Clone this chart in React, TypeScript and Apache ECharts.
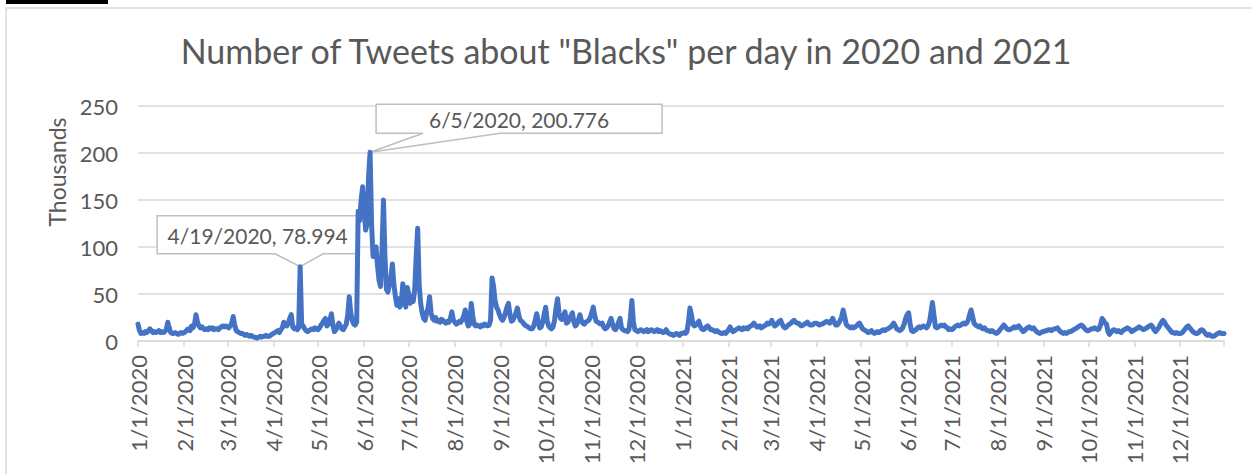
import React, { useEffect, useRef } from "react";
import * as echarts from "echarts";

const chartTitle = 'Number of Tweets about "Blacks" per day in 2020 and 2021';
const yAxisTitle = "Thousands";
const startYear = 2020;
const yTicks = [0, 50, 100, 150, 200, 250];

// Daily values, in thousands of tweets, one array per month
const jan2020 = [18, 11, 8, 9, 8, 10, 9, 11, 13, 11, 9, 10, 9, 10, 11, 9, 10, 9, 10, 12, 20, 14, 9, 8, 8, 9, 8, 7, 8, 9, 8];
const feb2020 = [9, 10, 12, 13, 11, 16, 14, 18, 28, 20, 16, 14, 15, 13, 12, 13, 12, 14, 13, 14, 12, 13, 13, 12, 14, 15, 16, 15, 16];
const mar2020 = [15, 14, 16, 19, 26, 17, 11, 10, 9, 8, 8, 7, 6, 7, 6, 5, 6, 5, 4, 4, 3, 4, 5, 4, 5, 5, 6, 5, 5, 6, 7];
const apr2020 = [8, 9, 10, 11, 9, 12, 14, 20, 17, 16, 19, 24, 28, 15, 13, 14, 12, 14, 78.994, 18, 16, 13, 11, 10, 11, 12, 13, 12, 14, 13];
const may2020 = [12, 14, 17, 19, 22, 24, 16, 18, 22, 29, 17, 10, 12, 15, 19, 16, 13, 12, 15, 18, 28, 47, 30, 22, 18, 17, 20, 138, 128, 150, 164];
const jun2020 = [140, 118, 125, 175, 200.776, 125, 90, 95, 100, 80, 65, 58, 95, 150, 90, 55, 52, 60, 68, 82, 60, 48, 38, 45, 36, 40, 61, 45, 36, 57];
const jul2020 = [50, 40, 47, 42, 55, 90, 120, 60, 40, 30, 24, 22, 30, 35, 47, 30, 24, 22, 25, 21, 22, 20, 23, 22, 20, 19, 21, 20, 24, 31, 22];
const aug2020 = [20, 18, 19, 21, 20, 23, 27, 33, 21, 16, 18, 40, 27, 18, 16, 17, 16, 15, 17, 16, 18, 17, 16, 17, 22, 67, 58, 43, 36, 33, 28];
const sep2020 = [24, 22, 25, 30, 36, 40, 28, 21, 22, 26, 30, 35, 27, 22, 21, 19, 17, 16, 15, 14, 13, 13, 16, 22, 29, 20, 14, 15, 20, 28];
const oct2020 = [36, 22, 16, 14, 13, 15, 22, 35, 45, 30, 24, 23, 27, 31, 19, 20, 24, 27, 30, 20, 16, 18, 22, 28, 22, 19, 18, 20, 21, 22, 25];
const nov2020 = [30, 36, 27, 21, 20, 19, 18, 19, 15, 13, 14, 16, 20, 24, 18, 13, 12, 15, 20, 24, 14, 12, 11, 11, 10, 12, 25, 43, 20, 12];
const dec2020 = [11, 10, 11, 12, 11, 10, 11, 12, 10, 11, 12, 11, 10, 11, 12, 10, 11, 10, 9, 10, 12, 9, 8, 7, 7, 6, 7, 8, 7, 6, 8];
const jan2021 = [8, 9, 8, 10, 20, 35, 28, 18, 16, 17, 19, 21, 16, 13, 12, 13, 15, 16, 14, 12, 12, 11, 10, 11, 10, 9, 8, 8, 9, 8, 10];
const feb2021 = [12, 15, 12, 10, 11, 12, 13, 14, 13, 12, 14, 13, 14, 13, 15, 16, 17, 19, 17, 15, 15, 16, 14, 15, 16, 17, 19, 18];
const mar2021 = [19, 22, 19, 16, 17, 19, 21, 22, 18, 15, 14, 15, 17, 18, 19, 21, 22, 20, 19, 19, 17, 16, 17, 18, 19, 20, 18, 17, 17, 18, 19];
const apr2021 = [19, 18, 17, 18, 18, 19, 20, 21, 20, 19, 21, 24, 20, 17, 17, 19, 22, 26, 33, 26, 18, 16, 15, 14, 15, 14, 15, 16, 18, 19];
const may2021 = [16, 13, 12, 11, 10, 9, 10, 11, 9, 8, 9, 10, 9, 10, 11, 12, 11, 12, 13, 14, 15, 17, 19, 16, 13, 12, 11, 12, 14, 18, 24];
const jun2021 = [28, 30, 18, 11, 10, 11, 12, 14, 15, 14, 15, 16, 15, 14, 16, 20, 30, 41, 28, 15, 14, 15, 16, 17, 16, 17, 15, 14, 12, 13];
const jul2021 = [12, 13, 15, 16, 17, 16, 17, 18, 19, 18, 19, 22, 28, 33, 26, 19, 17, 16, 15, 16, 14, 13, 14, 12, 11, 11, 10, 11, 10, 9, 8];
const aug2021 = [9, 11, 13, 15, 17, 15, 13, 12, 12, 13, 14, 15, 14, 15, 16, 14, 12, 10, 11, 13, 14, 15, 14, 13, 14, 12, 10, 9, 8, 9, 10];
const sep2021 = [10, 11, 11, 12, 12, 11, 12, 13, 13, 14, 12, 10, 9, 8, 9, 8, 9, 10, 10, 11, 12, 13, 14, 15, 16, 17, 16, 14, 12, 11];
const oct2021 = [11, 12, 13, 13, 14, 13, 12, 13, 17, 24, 22, 19, 18, 10, 7, 9, 11, 12, 11, 10, 11, 10, 9, 11, 12, 13, 14, 13, 12, 10, 11];
const nov2021 = [12, 13, 14, 15, 14, 13, 12, 13, 14, 15, 16, 17, 15, 12, 10, 12, 14, 17, 20, 22, 20, 17, 15, 13, 11, 9, 9, 8, 9, 8];
const dec2021 = [8, 8, 9, 11, 13, 15, 16, 14, 12, 10, 9, 8, 8, 9, 11, 12, 11, 9, 7, 6, 7, 6, 5, 5, 6, 7, 8, 9, 8, 8, 8];

const monthly = [
  jan2020, feb2020, mar2020, apr2020, may2020, jun2020, jul2020, aug2020, sep2020, oct2020, nov2020, dec2020,
  jan2021, feb2021, mar2021, apr2021, may2021, jun2021, jul2021, aug2021, sep2021, oct2021, nov2021, dec2021,
];

// Annotated points
const calloutDates = ["6/5/2020", "4/19/2020"];

const values: number[] = monthly.flat();
const dates: string[] = [];
monthly.forEach((arr, mi) => {
  const y = startYear + Math.floor(mi / 12);
  const m = (mi % 12) + 1;
  arr.forEach((_, di) => dates.push(`${m}/${di + 1}/${y}`));
});

const FONT = "Lato";
const GREY = "#595959";
const GRID = "#d9d9d9";

export default function App() {
  const ref = useRef<HTMLDivElement>(null);
  useEffect(() => {
    if (!ref.current) return;
    const chart = echarts.init(ref.current, null, { renderer: "svg" });
    const isMonthStart = (i: number) => dates[i].split("/")[1] === "1";
    chart.setOption({
      animation: false,
      backgroundColor: "#ffffff",
      title: {
        text: chartTitle,
        left: "center",
        top: 28,
        textStyle: { fontFamily: FONT, fontSize: 34, fontWeight: "normal", color: GREY },
      },
      grid: { left: 138, right: 28, top: 106, bottom: 133, containLabel: false },
      xAxis: {
        type: "category",
        data: dates,
        boundaryGap: false,
        axisLine: { lineStyle: { color: GRID, width: 1.5 } },
        axisTick: {
          show: true,
          length: 6,
          interval: (i: number) => isMonthStart(i) || i === dates.length - 1,
          lineStyle: { color: GRID, width: 1.5 },
        },
        axisLabel: {
          interval: (i: number) => isMonthStart(i),
          rotate: 90,
          margin: 14,
          fontFamily: FONT,
          fontSize: 22,
          color: GREY,
        },
        splitLine: { show: false },
      },
      yAxis: {
        type: "value",
        min: 0,
        max: yTicks[yTicks.length - 1],
        interval: yTicks[1] - yTicks[0],
        axisLine: { show: false },
        axisTick: { show: false },
        axisLabel: { margin: 20, fontFamily: FONT, fontSize: 22, color: GREY },
        splitLine: { lineStyle: { color: GRID, width: 1.5 } },
      },
      series: [
        {
          type: "line",
          data: values,
          showSymbol: false,
          symbol: "none",
          lineStyle: { color: "#4472C4", width: 5, join: "round", cap: "round" },
          z: 3,
        },
      ],
    });

    const find = (d: string) => {
      const i = dates.indexOf(d);
      return { i, v: values[i] };
    };
    const [p1, p2] = calloutDates.map(find);
    const a1 = chart.convertToPixel({ seriesIndex: 0 }, [p1.i, p1.v]) as number[];
    const a2 = chart.convertToPixel({ seriesIndex: 0 }, [p2.i, p2.v]) as number[];

    const callout = (
      ax: number, ay: number, l: number, r: number, t: number, b: number, pl: number, pr: number, text: string
    ) => ({
      type: "group",
      z: 100,
      children: [
        {
          type: "polygon",
          shape: {
            points: [
              [ax + l, ay + t], [ax + r, ay + t], [ax + r, ay + b], [ax + pr, ay + b],
              [ax, ay], [ax + pl, ay + b], [ax + l, ay + b],
            ],
          },
          style: { fill: "#ffffff", stroke: "#bfbfbf", lineWidth: 1.5 },
        },
        {
          type: "text",
          x: ax + (l + r) / 2,
          y: ay + (t + b) / 2 + 1,
          style: {
            text,
            align: "center",
            verticalAlign: "middle",
            fontFamily: FONT,
            fontSize: 21,
            fill: GREY,
          },
        },
      ],
    });

    chart.setOption({
      graphic: [
        {
          type: "rect",
          shape: { x: 6, y: 8, width: 1400, height: 600 },
          style: { fill: "none", stroke: "#d9d9d9", lineWidth: 1.5 },
          z: 0,
          silent: true,
        },
        {
          type: "rect",
          shape: { x: 6, y: 0, width: 102, height: 4 },
          style: { fill: "#000000" },
          z: 0,
        },
        {
          type: "text",
          x: 57,
          y: 172,
          rotation: Math.PI / 2,
          style: {
            text: yAxisTitle,
            align: "center",
            verticalAlign: "middle",
            fontFamily: FONT,
            fontSize: 23,
            fill: GREY,
          },
        },
        callout(a1[0], a1[1], 6, 292, -48, -19, 53, 130, `${calloutDates[0]}, ${p1.v}`),
        callout(a2[0], a2[1], -143, 58, -51, -13, -25, 23, `${calloutDates[1]}, ${p2.v}`),
      ],
    });

    return () => chart.dispose();
  }, []);
  return (
    <div
      ref={ref}
      style={{ position: "fixed", left: 0, top: 0, width: 1252, height: 474, background: "#fff" }}
    />
  );
}
